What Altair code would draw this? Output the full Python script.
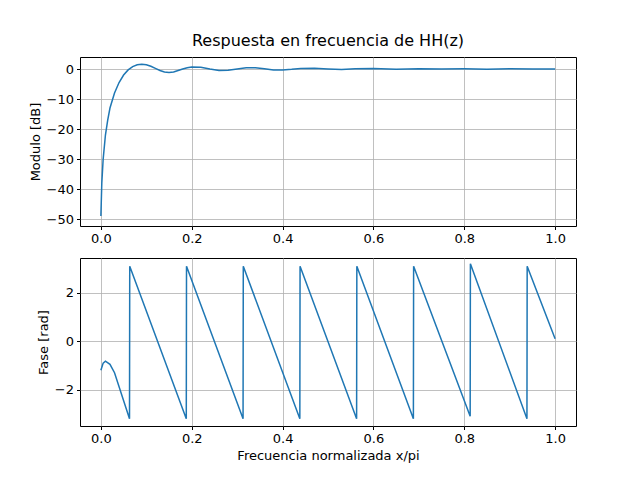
import altair as alt
import pandas as pd

# Módulo en dB
mod_x = [0, 0.002, 0.005, 0.01, 0.015, 0.02, 0.03, 0.04, 0.05, 0.06, 0.07, 0.08, 0.09, 0.1,
         0.11, 0.12, 0.13, 0.14, 0.15, 0.16, 0.17, 0.18, 0.19, 0.2, 0.22, 0.24, 0.26, 0.28,
         0.3, 0.32, 0.34, 0.36, 0.38, 0.4, 0.42, 0.44, 0.47, 0.5, 0.53, 0.56, 0.6, 0.65,
         0.7, 0.75, 0.8, 0.85, 0.9, 0.95, 1.0]
mod_y = [-49, -38, -30, -22, -17, -13, -8, -4.5, -2, -0.3, 0.8, 1.4, 1.6, 1.4,
         0.9, 0.2, -0.5, -1.0, -1.2, -1.0, -0.5, 0, 0.4, 0.7, 0.6, 0, -0.5, -0.4,
         0, 0.4, 0.4, 0.1, -0.3, -0.3, -0.1, 0.2, 0.25, 0, -0.2, 0.1, 0.15, -0.1,
         0.1, 0, 0.05, -0.05, 0.05, 0, 0]

# Fase en rad
fase_x = [0, 0.005, 0.01, 0.02, 0.03, 0.063, 0.0635, 0.188, 0.1885, 0.313, 0.3135,
          0.438, 0.4385, 0.563, 0.5635, 0.688, 0.6885, 0.813, 0.8135, 0.938, 0.9385, 1.0]
fase_y = [-1.2, -0.9, -0.82, -0.95, -1.3, -3.2, 3.1, -3.2, 3.1, -3.2, 3.1,
          -3.2, 3.1, -3.2, 3.1, -3.2, 3.1, -3.1, 3.2, -3.2, 3.1, 0.1]

azul = "#1f77b4"
df_mod = pd.DataFrame({"x": mod_x, "y": mod_y, "o": range(len(mod_x))})
df_fase = pd.DataFrame({"x": fase_x, "y": fase_y, "o": range(len(fase_x))})

xscale = alt.Scale(domain=[-0.046, 1.046], nice=False, zero=False)

top = alt.Chart(
    df_mod,
    title=alt.Title("Respuesta en frecuencia de HH(z)", fontSize=16, fontWeight="normal", offset=8),
).mark_line(color=azul, strokeWidth=1.5).encode(
    x=alt.X("x:Q", scale=xscale, title=None,
            axis=alt.Axis(values=[0, 0.2, 0.4, 0.6, 0.8, 1.0], format=".1f")),
    y=alt.Y("y:Q", scale=alt.Scale(domain=[-52.3, 4], nice=False, zero=False),
            title="Modulo [dB]", axis=alt.Axis(values=[-50, -40, -30, -20, -10, 0])),
    order="o:Q",
).properties(width=496, height=169)

bottom = alt.Chart(df_fase).mark_line(color=azul, strokeWidth=1.5).encode(
    x=alt.X("x:Q", scale=xscale, title="Frecuencia normalizada x/pi",
            axis=alt.Axis(values=[0, 0.2, 0.4, 0.6, 0.8, 1.0], format=".1f")),
    y=alt.Y("y:Q", scale=alt.Scale(domain=[-3.5, 3.44], nice=False, zero=False),
            title="Fase [rad]", axis=alt.Axis(values=[-2, 0, 2])),
    order="o:Q",
).properties(width=496, height=168)

chart = alt.vconcat(top, bottom, spacing=11).configure(
    font="DejaVu Sans",
).configure_view(stroke="black", strokeWidth=1).configure_axis(
    grid=True, gridColor="#b0b0b0", gridWidth=0.8, domain=False,
    tickColor="black", tickSize=3.5, labelColor="black", labelFontSize=13,
    labelFont="DejaVu Sans", titleFont="DejaVu Sans", titleFontSize=13,
    titleFontWeight="normal", titleColor="black", labelPadding=3,
).configure_title(font="DejaVu Sans", color="black").properties(
    padding={"left": 20, "top": 24, "right": 10, "bottom": 10}
)

chart.save("out.html", embed_options={"renderer": "svg", "actions": False})
